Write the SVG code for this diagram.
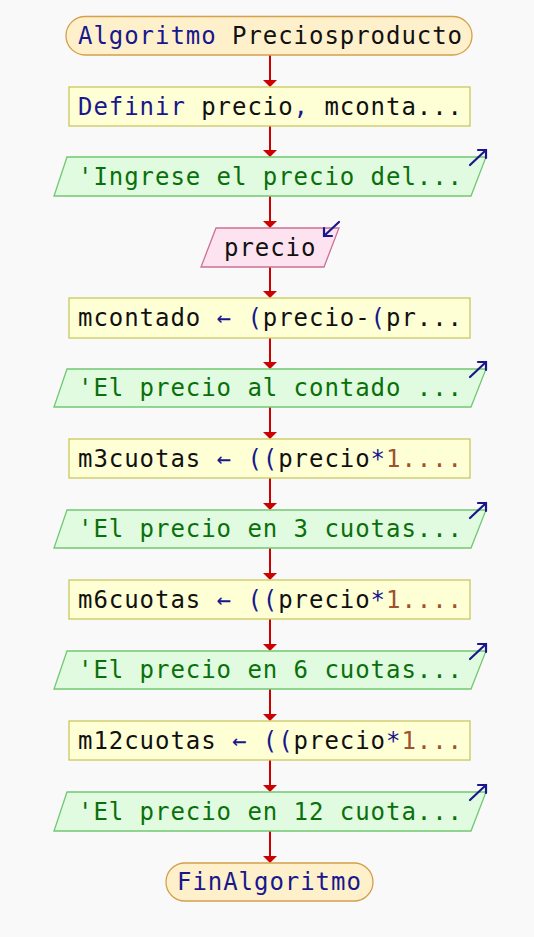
<svg xmlns="http://www.w3.org/2000/svg" width="534" height="937" viewBox="0 0 534 937">
<defs>
<style>
text{font-family:"DejaVu Sans Mono","Liberation Mono",monospace;font-size:24px;letter-spacing:0.95px;fill:#111;white-space:pre}
.k{fill:#18188c}
.s{fill:#0a700a}
.n{fill:#a0522d}
.term{fill:#fff0cc;stroke:#d4a04a;stroke-width:1.3}
.proc{fill:#ffffd6;stroke:#c8c85e;stroke-width:1.3}
.out{fill:#e0fbe0;stroke:#72c872;stroke-width:1.3}
.inp{fill:#fde2ef;stroke:#cc7096;stroke-width:1.3}
.icon{fill:none;stroke:#18188c;stroke-width:2.2;stroke-linecap:round}
.conn line{stroke:#cc0000;stroke-width:2}
.conn polygon{fill:#cc0000}
</style>
</defs>
<rect width="534" height="937" fill="#f9f9f9"/>
<g class="conn">
<line x1="270" y1="55" x2="270" y2="80"/><polygon points="263,80 277,80 270,87"/>
<line x1="270" y1="126" x2="270" y2="150"/><polygon points="263,150 277,150 270,157"/>
<line x1="270" y1="196" x2="270" y2="221"/><polygon points="263,221 277,221 270,228"/>
<line x1="270" y1="267" x2="270" y2="291"/><polygon points="263,291 277,291 270,298"/>
<line x1="270" y1="338" x2="270" y2="362"/><polygon points="263,362 277,362 270,369"/>
<line x1="270" y1="407" x2="270" y2="432"/><polygon points="263,432 277,432 270,439"/>
<line x1="270" y1="478" x2="270" y2="503"/><polygon points="263,503 277,503 270,510"/>
<line x1="270" y1="548" x2="270" y2="573"/><polygon points="263,573 277,573 270,580"/>
<line x1="270" y1="619" x2="270" y2="644"/><polygon points="263,644 277,644 270,651"/>
<line x1="270" y1="689" x2="270" y2="714"/><polygon points="263,714 277,714 270,721"/>
<line x1="270" y1="760" x2="270" y2="785"/><polygon points="263,785 277,785 270,792"/>
<line x1="270" y1="831" x2="270" y2="856"/><polygon points="263,856 277,856 270,863"/>
</g>
<g id="start">
<rect class="term" x="66" y="16.5" width="406" height="38.5" rx="19.25"/>
<text x="78" y="43.5"><tspan class="k">Algoritmo</tspan> Preciosproducto</text>
</g>
<g id="definir">
<rect class="proc" x="69" y="87" width="401" height="39"/>
<text x="78" y="114.5"><tspan class="k">Definir</tspan> precio<tspan class="k">,</tspan> mconta...</text>
</g>
<g id="out1">
<polygon class="out" points="67,157 486,157 471,196 54,196"/>
<text class="s" x="78" y="184.5">'Ingrese el precio del...</text>
<path class="icon" d="M470,165 L486,150 M478,150 L486,150 L486,158"/>
</g>
<g id="in1">
<polygon class="inp" points="216,228 339,228 324,267 201,267"/>
<text x="224" y="255.5">precio</text>
<path class="icon" d="M339,222 L324,236 M324,228 L324,236 L332,236"/>
</g>
<g id="mcontado">
<rect class="proc" x="69" y="298" width="401" height="40"/>
<text x="78" y="326">mcontado <tspan class="k">← (</tspan>precio-<tspan class="k">(</tspan>pr...</text>
</g>
<g id="out2">
<polygon class="out" points="67,369 486,369 471,407 54,407"/>
<text class="s" x="78" y="396">'El precio al contado ...</text>
<path class="icon" d="M470,377 L486,362 M478,362 L486,362 L486,370"/>
</g>
<g id="m3cuotas">
<rect class="proc" x="69" y="439" width="401" height="39"/>
<text x="78" y="466.5">m3cuotas <tspan class="k">← ((</tspan>precio<tspan class="k">*</tspan><tspan class="n">1....</tspan></text>
</g>
<g id="out3">
<polygon class="out" points="67,510 486,510 471,548 54,548"/>
<text class="s" x="78" y="537">'El precio en 3 cuotas...</text>
<path class="icon" d="M470,518 L486,503 M478,503 L486,503 L486,511"/>
</g>
<g id="m6cuotas">
<rect class="proc" x="69" y="580" width="401" height="39"/>
<text x="78" y="607.5">m6cuotas <tspan class="k">← ((</tspan>precio<tspan class="k">*</tspan><tspan class="n">1....</tspan></text>
</g>
<g id="out4">
<polygon class="out" points="67,651 486,651 471,689 54,689"/>
<text class="s" x="78" y="678">'El precio en 6 cuotas...</text>
<path class="icon" d="M470,659 L486,644 M478,644 L486,644 L486,652"/>
</g>
<g id="m12cuotas">
<rect class="proc" x="69" y="721" width="401" height="39"/>
<text x="78" y="748.5">m12cuotas <tspan class="k">← ((</tspan>precio<tspan class="k">*</tspan><tspan class="n">1...</tspan></text>
</g>
<g id="out5">
<polygon class="out" points="67,792 486,792 471,831 54,831"/>
<text class="s" x="78" y="819.5">'El precio en 12 cuota...</text>
<path class="icon" d="M470,800 L486,785 M478,785 L486,785 L486,793"/>
</g>
<g id="end">
<rect class="term" x="166" y="863" width="207" height="38" rx="19"/>
<text class="k" x="177" y="890">FinAlgoritmo</text>
</g>
</svg>
